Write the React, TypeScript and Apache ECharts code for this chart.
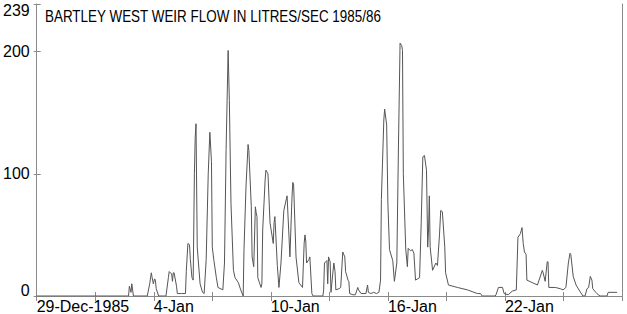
import React, { useEffect, useRef } from "react";
import * as echarts from "echarts";

// Hours since 29-Dec-1985 00:00
const hours = [
  0, 113, 114, 116, 117, 119,
  136, 139, 141, 142, 143.5, 145, 146, 147, 150,
  159, 162, 163, 166, 167, 168, 169, 172, 173, 178, 183,
  184, 186, 188, 189, 191, 192.5, 194, 195, 196, 197.5, 199, 201, 204, 206,
  208.5, 211, 213, 215, 216, 218, 221, 223, 229,
  231, 233, 235.5, 237, 239, 242, 244, 248, 251, 254,
  255, 257.5, 260, 261, 264, 265, 267, 269, 270, 271, 272, 276, 277,
  278, 281, 282, 284.5, 287, 291, 292, 293, 296, 298, 300.5,
  304, 308, 310, 311.5, 314, 315, 316, 319, 322.5, 327,
  329, 330, 331, 332, 335, 336, 338.5, 340, 352,
  353, 354, 357, 358, 359, 361, 362, 363, 365.5, 367, 368, 372, 374, 376.5, 379, 380, 383, 384, 385, 389, 392, 395, 396, 399, 405, 407, 408, 411, 414.5, 418, 421,
  423, 424, 427, 428, 430.5, 432, 434, 438, 440, 443, 445, 447, 449, 450, 451, 454, 456, 457, 460, 462, 464, 466, 471, 473, 475, 477, 479.5, 481, 482, 483, 484, 487, 491, 493, 495.5, 497, 499, 502, 503, 506.5, 517.5, 530, 542, 546, 548, 564, 565,
  568, 573, 575, 580, 585, 590, 592, 595, 597, 598.5, 600, 602, 603, 609.5, 616, 618, 622, 623, 625.5, 628, 629, 630, 638, 644, 647.5, 651, 654, 656, 657, 660, 663.5, 668, 672, 674.5, 677, 679, 681, 683, 684, 689, 693, 701.5, 703, 714,
];

// Flow in litres/sec
const flow = [
  0, 0, 8, 3, 10, 0,
  0, 10, 19, 15, 10, 14, 13, 6, 0,
  0, 15, 20, 18, 12, 19, 19, 8, 2, 2, 2,
  20, 43, 42, 30, 15, 13, 100, 130, 141, 40, 27, 10, 3, 2,
  30, 100, 134, 110, 40, 29, 15, 7, 5,
  27, 120, 201, 160, 76, 21, 15, 11, 5, 0,
  38, 90, 124, 119, 73, 32, 24, 73, 68, 65, 15, 7, 10,
  54, 95, 103, 100, 60, 43, 60, 65, 25, 7, 27,
  70, 82, 54, 32, 80, 93, 92, 32, 11, 7,
  43, 50, 45, 27, 30, 32, 2, 0, 0,
  5, 27, 29, 10, 32, 28, 3, 10, 27, 20, 5, 6, 7, 36, 32, 20, 13, 12, 2, 1, 1, 7, 5, 2, 2, 9, 3, 2, 3, 2, 3,
  13, 79, 144, 153, 140, 76, 38, 29, 12, 27, 122, 207, 205, 201, 100, 38, 24, 39, 37, 38, 35, 13, 15, 60, 114, 115, 103, 40, 54, 82, 40, 21, 27, 25, 50, 70, 69, 40, 19, 9, 7, 5, 2, 2, 0, 0, 1,
  7, 7, 2, 1, 4, 5, 48, 51, 56, 43, 36, 34, 13, 11, 9, 13, 21, 19, 12, 28, 28, 7, 7, 6, 5, 7, 27, 35, 34, 16, 9, 4, 0, 0, 6, 7, 16, 13, 6, 2, 0, 0, 3, 3,
];

const tickLabels: Record<number, string> = {
  0: "29-Dec-1985",
  144: "4-Jan",
  288: "10-Jan",
  432: "16-Jan",
  576: "22-Jan",
};

const TITLE = "BARTLEY WEST WEIR FLOW IN LITRES/SEC 1985/86";
const FONT = '"Liberation Sans", Arial, sans-serif';

export default function App() {
  const ref = useRef<HTMLDivElement>(null);
  useEffect(() => {
    if (!ref.current) return;
    const chart = echarts.init(ref.current, null, { renderer: "svg" });
    const axisColor = "#8a8a8a";
    chart.setOption({
      animation: false,
      backgroundColor: "#ffffff",
      grid: { left: 35, right: 5, top: 4, bottom: 18, containLabel: false },
      graphic: [
        {
          type: "text",
          x: 45,
          y: 17,
          scaleX: 0.84,
          style: {
            text: TITLE,
            font: `16px ${FONT}`,
            fill: "#000",
            verticalAlign: "middle",
          },
        },
      ],
      xAxis: [
        {
          type: "value",
          min: 0,
          max: 720,
          interval: 72,
          position: "bottom",
          axisLine: { show: true, lineStyle: { color: axisColor, width: 1 } },
          axisTick: { show: true, inside: true, length: 4, lineStyle: { color: axisColor } },
          splitLine: { show: false },
          axisLabel: {
            show: true,
            margin: 2,
            align: "left",
            color: "#000",
            fontSize: 16,
            fontFamily: FONT,
            showMaxLabel: false,
            formatter: (v: number) => tickLabels[v] ?? "",
          },
        },
        {
          type: "value",
          min: 0,
          max: 720,
          interval: 72,
          position: "top",
          axisLine: { show: true, lineStyle: { color: axisColor, width: 1 } },
          axisTick: { show: true, inside: true, length: 5, lineStyle: { color: axisColor } },
          splitLine: { show: false },
          axisLabel: { show: false },
        },
      ],
      yAxis: [
        {
          type: "value",
          min: 0,
          max: 239,
          interval: 100,
          position: "left",
          axisLine: { show: true, lineStyle: { color: axisColor, width: 1 } },
          axisTick: { show: true, inside: false, length: 3, lineStyle: { color: axisColor } },
          splitLine: { show: false },
          axisLabel: {
            show: true,
            margin: 7,
            color: "#000",
            fontSize: 16,
            fontFamily: FONT,
            formatter: (v: number) =>
              v === 0 ? "{lo|0}" : v === 239 ? "{hi|239}" : String(v),
            rich: {
              lo: { fontSize: 16, fontFamily: FONT, color: "#000", padding: [0, 0, 12, 0] },
              hi: { fontSize: 16, fontFamily: FONT, color: "#000", padding: [12, 0, 0, 0] },
            },
          },
        },
        {
          type: "value",
          min: 0,
          max: 239,
          interval: 100,
          position: "left",
          axisLine: { show: false },
          axisTick: { show: true, inside: true, length: 4, lineStyle: { color: axisColor } },
          splitLine: { show: false },
          axisLabel: { show: false },
        },
        {
          type: "value",
          min: 0,
          max: 239,
          interval: 100,
          position: "right",
          axisLine: { show: true, lineStyle: { color: axisColor, width: 1 } },
          axisTick: { show: false },
          splitLine: { show: false },
          axisLabel: { show: false },
        },
      ],
      series: [
        {
          type: "line",
          xAxisIndex: 0,
          yAxisIndex: 0,
          data: hours.map((h, i) => [h, flow[i]]),
          showSymbol: false,
          symbol: "none",
          lineStyle: { color: "#555555", width: 1 },
          silent: true,
        },
      ],
    });
    return () => chart.dispose();
  }, []);
  return (
    <div
      ref={ref}
      style={{ position: "absolute", left: 0, top: 0, width: 627, height: 314, background: "#fff" }}
    />
  );
}
